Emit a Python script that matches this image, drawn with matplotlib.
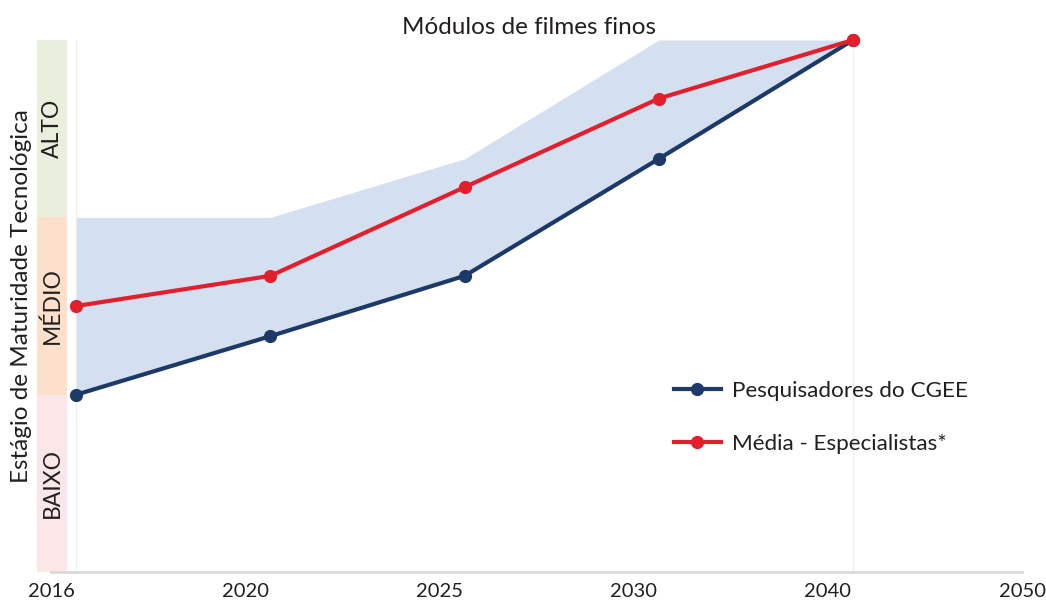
import numpy as np
import matplotlib
matplotlib.use("Agg")
import matplotlib.pyplot as plt

plt.rcParams['font.family'] = ['Lato', 'DejaVu Sans']

# data
years = ['2016', '2020', '2025', '2030', '2040', '2050']
cgee = [1.0, 1.33, 1.67, 2.33, 3.0]           # Pesquisadores do CGEE
especialistas = [1.5, 1.67, 2.17, 2.67, 3.0]  # Média - Especialistas*
faixa_sup = [2.0, 2.0, 2.33, 3.0, 3.0]        # upper edge of shaded range
niveis = ['BAIXO', 'MÉDIO', 'ALTO']
nivel_cores = ['#fbe7e8', '#fde0cb', '#e9efdc']

blue = '#1c3967'
red = '#e21f2c'
band = '#d4dff0'
txt = '#231f20'

x_pts = np.arange(len(cgee)) + 0.13

fig = plt.figure(figsize=(10.46, 6.03), dpi=100)
ax = fig.add_axes([37 / 1046, 31 / 603, 985 / 1046, 532 / 603])
ax.set_xlim(-0.072, 5.0)
ax.set_ylim(0, 3)

# maturity strip on the left
for i, (lab, c) in enumerate(zip(niveis, nivel_cores)):
    ax.bar(0.005, 1, bottom=i, width=0.154, color=c, zorder=1)
    ax.text(0.005, i + 0.5, lab, rotation=90, ha='center', va='center',
            fontsize=16.5, color=txt, zorder=2)

# faint guides at first and last point
for xv in (x_pts[0], x_pts[-1]):
    ax.axvline(xv, color='#f0f0f0', lw=1, zorder=0)

ax.fill_between(x_pts, cgee, faixa_sup, color=band, lw=0, zorder=1)
ax.plot(x_pts, cgee, color=blue, lw=3, marker='o', ms=8.5,
        label='Pesquisadores do CGEE', zorder=3, clip_on=False)
ax.plot(x_pts, especialistas, color=red, lw=3, marker='o', ms=8.5,
        label='Média - Especialistas*', zorder=4, clip_on=False)

ax.set_xticks(np.arange(len(years)))
ax.set_xticklabels(years, fontsize=14.5, color=txt)
ax.tick_params(axis='x', length=0, pad=8)
ax.set_yticks([])
for s in ['top', 'right', 'left']:
    ax.spines[s].set_visible(False)
ax.spines['bottom'].set_color('#d9d9d9')
ax.spines['bottom'].set_linewidth(2)
ax.spines['bottom'].set_bounds(0, 5)

ax.set_title('Módulos de filmes finos', fontsize=17.5, color=txt, pad=4)
fig.text(22 / 1046, 1 - 296 / 603, 'Estágio de Maturidade Tecnológica',
         rotation=90, ha='center', va='center', fontsize=17.5, color=txt)

leg = ax.legend(loc='upper left', bbox_to_anchor=(0.626, 0.397), frameon=False,
                fontsize=16.2, handlelength=2.1, handletextpad=0.5, labelspacing=1.45)
for t in leg.get_texts():
    t.set_color(txt)

fig.savefig('out.png', dpi=100)
